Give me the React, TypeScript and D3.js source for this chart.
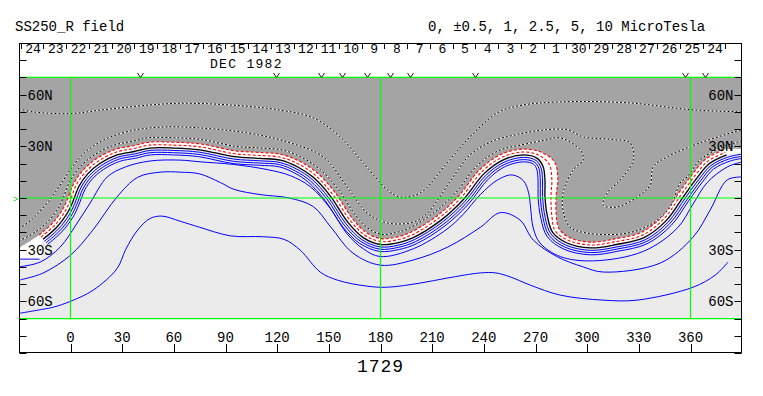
import React, { useEffect, useRef } from "react";
import * as d3 from "d3";

type Pt = [number, number];

// [Carrington longitude, latitude] pairs
const neutralLine: Pt[] = [
  [-16, -24], [-8, -17], [-2, -9], [1, -3], [5, 7], [10, 14], [17, 20], [27, 25], [37, 27], [46, 29],
  [60, 29], [75, 28], [95, 24], [110, 23], [122, 22], [132, 18], [141, 12], [151, 1], [161, -14],
  [170, -23], [180, -27], [190, -26], [199, -23], [215, -13], [228, -1], [240, 14], [251, 22], [263, 25],
  [271, 23], [274.5, 18], [275.5, 10], [275.5, 1], [277, -11], [280, -20], [288, -26], [302, -29],
  [317, -27], [333, -23], [346, -13], [356, 1], [364, 12], [371, 20], [381, 25],
];
const neutralRightEnd: Pt[] = [[390, 26.5]];

const innerRedLine: Pt[] = [
  [-17.1, -22.7], [-9.2, -15.8], [-3.4, -8.1], [-0.5, -2.3], [3.5, 7.8], [8.8, 15.2], [16.1, 21.4],
  [26.4, 26.6], [36.7, 28.7], [45.8, 30.7], [60, 30.7], [75.2, 29.7], [95.2, 25.7], [110.1, 24.7],
  [122.4, 23.6], [132.8, 19.5], [142.1, 13.3], [152.3, 2], [162.3, -12.9], [171, -21.6], [180.3, -25.3],
  [189.6, -24.3], [198.2, -21.5], [214, -11.6], [226.8, 0.2], [238.8, 15.2], [250.3, 23.5], [262.9, 26.7],
  [272, 24.8], [278, 19.5], [279.5, 10.5], [279, 1.2], [279.5, -10.4], [281.4, -19], [288.6, -24.4],
  [302.1, -27.3], [316.7, -25.3], [332.3, -21.5], [344.8, -11.8], [354.6, 2], [362.7, 13.1], [370, 21.3],
  [380.2, 26.5],
];

const outerRedLine: Pt[] = [
  [-18.2, -21.5], [-10.5, -14.7], [-4.9, -7.2], [-2.1, -1.6], [2, 8.6], [7.5, 16.3], [15.2, 22.9],
  [25.9, 28.2], [36.3, 30.3], [45.7, 32.4], [60.1, 32.4], [75.5, 31.4], [95.5, 27.4], [110.2, 26.4],
  [122.7, 25.3], [133.6, 21], [143.3, 14.6], [153.7, 3.1], [163.7, -11.9], [171.9, -20.2], [180.5, -23.6],
  [189.3, -22.7], [197.4, -20], [213, -10.3], [225.5, 1.3], [237.6, 16.4], [249.5, 25.1], [262.8, 28.4],
  [273.5, 26.5], [281, 21], [283, 11], [282, 1.5], [282, -9.5], [283.5, -17.5], [289.3, -22.8],
  [302.1, -25.6], [316.4, -23.7], [331.5, -19.9], [343.6, -10.7], [353.2, 3], [361.3, 14.1], [368.9, 22.7],
  [379.5, 28.1],
];
const greyLeftEnd: Pt[] = [[-30, -29]];
const greyRightEnd: Pt[] = [[390, 28.5]];

// positive contours (blue)
const blueLine1: Pt[] = [
  [-15.1, -25.1], [-7, -18], [-0.8, -9.8], [2.3, -3.6], [6.2, 6.3], [11, 13], [17.8, 18.8], [27.5, 23.7],
  [37.3, 25.6], [46.1, 27.6], [60, 27.6], [74.8, 26.6], [94.8, 22.6], [109.9, 21.6], [121.7, 20.6],
  [131.3, 16.8], [140.1, 11], [149.9, 0.1], [159.9, -14.9], [169.2, -24.2], [179.8, -28.4], [190.3, -27.4],
  [199.6, -24.2], [215.8, -14.1], [229, -2], [241, 13], [251.6, 20.7], [263.1, 23.6], [270.3, 21.8],
  [273.2, 17.5], [274.1, 9.9], [274.1, 0.9], [275.6, -11.3], [278.9, -20.8], [287.5, -27.3], [302, -30.4],
  [317.3, -28.4], [333.6, -24.3], [347, -14], [357.1, 0.2], [365.1, 11.1], [371.9, 18.9], [381.6, 23.7],
  [390, 25.5],
];
const blueLine2: Pt[] = [
  [-14.2, -26], [-6, -18.8], [0.3, -10.5], [3.5, -4.1], [7.4, 5.7], [12, 12.2], [18.5, 17.7], [27.9, 22.5],
  [37.5, 24.4], [46.2, 26.3], [59.9, 26.3], [74.6, 25.3], [94.6, 21.3], [109.8, 20.3], [121.4, 19.4],
  [130.7, 15.6], [139.2, 10], [148.9, -0.6], [158.9, -15.7], [168.5, -25.2], [179.6, -29.7], [190.6, -28.6],
  [200.2, -25.4], [216.6, -15.2], [230, -2.8], [241.9, 12.1], [252.2, 19.6], [263.1, 22.3], [269.6, 20.7],
  [272, 17.1], [272.8, 9.8], [272.8, 0.8], [274.4, -11.6], [277.8, -21.6], [287, -28.5], [301.9, -31.7],
  [317.5, -29.6], [334.2, -25.4], [347.9, -14.9], [358.2, -0.6], [366.1, 10.3], [372.6, 17.9], [382.2, 22.6],
  [390, 24.2],
];
const blueLine3: Pt[] = [
  [-13.4, -27], [-5.1, -19.7], [1.4, -11.2], [4.6, -4.6], [8.5, 5.1], [12.9, 11.3], [19.2, 16.6], [28.3, 21.2],
  [37.8, 23.1], [46.4, 25], [59.9, 25], [74.4, 24], [94.4, 20], [109.7, 19], [121.1, 18.1], [130.1, 14.5],
  [138.3, 9], [147.8, -1.4], [157.9, -16.5], [167.8, -26.3], [179.4, -31], [190.8, -29.9], [200.8, -26.6],
  [217.4, -16.2], [230.9, -3.7], [242.8, 11.2], [252.7, 18.4], [263.2, 21], [268.9, 19.6], [270.7, 16.7],
  [271.5, 9.8], [271.5, 0.7], [273.1, -11.8], [276.8, -22.4], [286.5, -29.7], [301.9, -33], [317.8, -30.9],
  [334.7, -26.6], [348.9, -15.8], [359.2, -1.3], [367.1, 9.5], [373.4, 16.8], [382.8, 21.4], [390, 23],
];
const blueStub: Pt[] = [[-30, -35.5], [-18, -35.5]];
const blueLine4: Pt[] = [
  [-30, -40], [-17.6, -37.2], [-6, -28.5], [3.9, -14.5], [11.4, -2.9], [21.3, 12.2], [31.8, 18], [46.3, 21.5],
  [63.7, 22], [75.3, 21], [94.5, 19.5], [114.2, 16.5], [127.6, 13], [139.2, 6.6], [150.8, -6], [160.7, -21],
  [170, -29.5], [179.8, -34], [199, -29.5], [218.7, -18], [228, -9.5], [238, 2], [248, 10.5], [256.5, 13.4],
  [263, 10], [266, 3], [267, -4], [268.7, -17.5], [272.7, -26.2], [284.4, -34], [303.6, -36.5], [332.6, -31],
  [352.3, -17.5], [361.5, -3.5], [369.7, 9], [381.3, 18], [390, 21],
];
const blueLine5: Pt[] = [
  [-30, -47.7], [-16, -43.6], [0, -33.2], [13, -18.6], [27, 0.6], [39, 12], [52, 15], [64, 15], [75, 14],
  [87, 9], [95, 5], [110, 2], [127, 0], [141, -5], [151, -16.7], [164, -32], [180, -39], [199, -36],
  [219, -28.5], [238, -17], [249.6, -8.5], [261, -12.8], [268.7, -24.4], [282.6, -34.1], [297.7, -40],
  [309.3, -43], [342.4, -37.8], [361.5, -22.7], [371.4, -7], [381.3, 10.5], [390, 12.2],
];
const blueLine6: Pt[] = [
  [-30, -67], [-16, -64.6], [-10, -63.4], [0, -60], [13.2, -53.5], [27, -41], [32, -30], [38.7, -19],
  [46, -12], [53, -10.5], [63.7, -13.5], [75, -17], [93, -22], [112, -22.5], [124, -24], [133.4, -30.3],
  [145, -43], [155, -47.7], [172.3, -51.2], [184, -51.8], [203, -49.4], [218.7, -46.5], [238, -43.5],
  [247, -43.5], [255.3, -45.8], [267, -50.6], [284.4, -56.4], [309.3, -59.3], [329, -59.3], [361.5, -51.8],
  [374.3, -44.8], [381.8, -37.2],
];

// negative contours (dotted)
const dottedLine1: Pt[] = [
  [-30, -25], [-20, -19.5], [-12.4, -12.9], [-7, -5.8], [-4.5, -0.6], [-0.3, 9.8], [5.6, 18.1], [13.8, 25],
  [25, 30.6], [35.8, 32.9], [45.5, 35], [60.2, 35], [75.8, 34], [95.8, 30], [110.4, 29], [123.3, 27.8],
  [134.8, 23.3], [145, 16.5], [155.7, 4.7], [165.7, -10.3], [173.4, -18], [180.9, -21.1], [188.7, -20.1],
  [196.2, -17.7], [211.4, -8.2], [223.6, 3.1], [235.7, 18.3], [248.4, 27.4], [262.7, 31], [275, 33.5],
  [284.4, 34.9], [296, 27.9], [297.7, 22.1], [291.9, 16.3], [286, 2.9], [286, -7], [290, -16.9], [300, -20.4],
  [323.2, -20.4], [338.3, -14.5], [348.2, -5.2], [354, 8.7], [358, 12.2], [365.6, 22.1], [377.2, 29],
  [389.4, 33],
];
const dottedLine2: Pt[] = [
  [-30, -18], [-22, -12], [-12, -1], [-5, 9], [1, 18], [9, 27], [20, 34], [35, 39], [50, 41], [64, 41.3],
  [102.6, 37.8], [127.6, 32], [146.7, 23.9], [160.7, 6.4], [172.3, -8.7], [184, -14.5], [199, -14],
  [207, -9], [214, 0], [222, 12], [232, 25], [245, 33], [260, 37], [275, 39.5], [288.4, 39.6], [297.7, 35.5],
  [314, 34], [325, 32], [326.8, 22.1], [319.2, 10.5], [311.6, 2.9], [309.3, -4.1], [317.5, -5.2], [329, 0.6],
  [336.6, 7.6], [338.3, 18], [346.5, 23.9], [365.6, 32], [389.4, 39.6],
];
const dottedLine3: Pt[] = [
  [-30, 51.8], [-21.7, 50], [0, 49], [17, 51], [46, 54], [64, 55], [93, 54], [122, 51], [141, 46.5],
  [156.6, 35.5], [170, 20.4], [184, 4.7], [191.4, 0.6], [203, 2.9], [218.7, 20.4], [232, 35.5],
  [247.8, 49.4], [260, 53.5], [284.4, 55.8], [323.2, 55.3], [361.5, 51.2], [390, 50],
];

const titleText = "SS250_R field";
const levelsText = "0, \u00b10.5, 1, 2.5, 5, 10 MicroTesla";
const rotationText = "1729";
const monthText = "DEC 1982";
const dayLabels = [24, 23, 22, 21, 20, 19, 18, 17, 16, 15, 14, 13, 12, 11, 10, 9, 8, 7, 6, 5, 4, 3, 2, 1, 30, 29, 28, 27, 26, 25, 24];
const firstDayEdgeLon = -28.9;
const degPerDay = 13.2;
const markerLons = [40.5, 119.4, 145.6, 157.5, 172.1, 185.6, 197.3, 235, 356.9, 368.5];
const lonTicks = [0, 30, 60, 90, 120, 150, 180, 210, 240, 270, 300, 330, 360];
const latTicks = d3.range(-90, 91, 10);
const latLabels: [number, string][] = [[60, "60N"], [30, "30N"], [-30, "30S"], [-60, "60S"]];
const greenLons = [0, 180, 360];
const greenLats = [70, 0, -70];

const FONT = "'Liberation Mono', 'DejaVu Sans Mono', monospace";

const App = () => {
  const ref = useRef<SVGSVGElement>(null);

  useEffect(() => {
    const svg = d3.select(ref.current);
    svg.selectAll("*").remove();

    const x = d3.scaleLinear().domain([0, 360]).range([70.5, 690.5]);
    const y = d3.scaleLinear().domain([-90, 90]).range([353, 43]);
    const left = 19.5;
    const right = 741.5;

    const line = d3
      .line<Pt>()
      .x((d) => x(d[0]))
      .y((d) => y(d[1]))
      .curve(d3.curveCatmullRom.alpha(0.5));
    const closeTop = `L${x(390)},${y(90)}L${x(-30)},${y(90)}Z`;

    svg
      .append("defs")
      .append("clipPath")
      .attr("id", "plot")
      .append("rect")
      .attr("x", left)
      .attr("y", y(70))
      .attr("width", right - left)
      .attr("height", y(-70) - y(70));

    const plot = svg.append("g").attr("clip-path", "url(#plot)");

    // backgrounds
    plot.append("rect").attr("x", left).attr("y", y(70)).attr("width", right - left).attr("height", y(-70) - y(70)).attr("fill", "#ebebeb");
    plot.append("path").attr("d", line([...blueStub, ...neutralLine, ...neutralRightEnd]) + closeTop).attr("fill", "#ffffff");
    plot.append("path").attr("d", line([...greyLeftEnd, ...outerRedLine, ...greyRightEnd]) + closeTop).attr("fill", "#a4a4a4");

    // green grid (not clipped so the 70N / 70S lines stay whole)
    const g = svg.append("g").attr("stroke", "#00ff00").attr("stroke-width", 1.2);
    greenLons.forEach((lon) => {
      g.append("line").attr("x1", x(lon)).attr("x2", x(lon)).attr("y1", y(70)).attr("y2", y(-70));
    });
    greenLats.forEach((lat) => {
      g.append("line").attr("x1", left).attr("x2", right).attr("y1", y(lat)).attr("y2", y(lat));
    });

    // positive contours
    [blueStub, blueLine1, blueLine2, blueLine3, blueLine4, blueLine5, blueLine6].forEach((pts) => {
      plot.append("path").attr("d", line(pts)).attr("fill", "none").attr("stroke", "#0000ff").attr("stroke-width", 1);
    });

    // neutral line band
    [innerRedLine, outerRedLine].forEach((pts) => {
      plot.append("path").attr("d", line(pts)).attr("fill", "none").attr("stroke", "#ff0000").attr("stroke-width", 1.1).attr("stroke-dasharray", "3 2");
    });
    plot.append("path").attr("d", line(neutralLine)).attr("fill", "none").attr("stroke", "#000").attr("stroke-width", 1.3);

    // negative contours
    [dottedLine1, dottedLine2, dottedLine3].forEach((pts) => {
      plot.append("path").attr("d", line(pts)).attr("fill", "none").attr("stroke", "#fff").attr("stroke-width", 1);
      plot.append("path").attr("d", line(pts)).attr("fill", "none").attr("stroke", "#000").attr("stroke-width", 1).attr("stroke-dasharray", "2 2");
    });

    // frame
    svg.append("rect").attr("x", left).attr("y", 43.5).attr("width", right - left).attr("height", 309).attr("fill", "none").attr("stroke", "#000");

    const axes = svg.append("g").attr("stroke", "#000").attr("stroke-width", 1).attr("fill", "none");
    latTicks.forEach((lat) => {
      const yy = Math.round(y(lat)) + 0.5;
      axes.append("line").attr("x1", left).attr("x2", left + 7).attr("y1", yy).attr("y2", yy);
      axes.append("line").attr("x1", right - 7).attr("x2", right).attr("y1", yy).attr("y2", yy);
    });
    lonTicks.forEach((lon) => {
      const xx = Math.round(x(lon)) + 0.5;
      axes.append("line").attr("x1", xx).attr("x2", xx).attr("y1", 344).attr("y2", 353);
    });
    d3.range(dayLabels.length + 1).forEach((k) => {
      const xx = Math.round(x(firstDayEdgeLon + k * degPerDay)) + 0.5;
      axes.append("line").attr("x1", xx).attr("x2", xx).attr("y1", 43.5).attr("y2", 49);
    });
    // "v" markers above the map
    markerLons.forEach((lon) => {
      const xx = Math.round(x(lon)) + 0.5;
      axes.append("path").attr("d", `M${xx - 3},73L${xx},77.5L${xx + 3},73`).attr("stroke-width", 0.9);
    });

    const text = svg.append("g").attr("font-family", FONT).attr("font-size", 14).attr("fill", "#000");
    text.append("text").attr("x", 15).attr("y", 31).text(titleText);
    text.append("text").attr("x", 428).attr("y", 31).text(levelsText);
    dayLabels.forEach((d, k) => {
      text.append("text").attr("x", x(firstDayEdgeLon + (k + 0.5) * degPerDay) + 1).attr("y", 52.5).attr("font-size", 13).attr("text-anchor", "middle").text(d);
    });
    text.append("text").attr("x", 210).attr("y", 67.5).attr("font-size", 13).attr("letter-spacing", 1.3).text(monthText);
    latLabels.forEach(([lat, label]) => {
      text.append("text").attr("x", left + 8).attr("y", y(lat) + 5).text(label);
      text.append("text").attr("x", right - 8).attr("y", y(lat) + 5).attr("text-anchor", "end").text(label);
    });
    lonTicks.forEach((lon) => {
      text.append("text").attr("x", x(lon)).attr("y", 342).attr("text-anchor", "middle").text(lon);
    });
    text.append("text").attr("x", 13).attr("y", y(0) + 4).attr("font-size", 9).attr("fill", "#00cc00").text(">");
    text.append("text").attr("x", x(180)).attr("y", 372).attr("font-size", 18).attr("text-anchor", "middle").attr("letter-spacing", 1).text(rotationText);
  }, []);

  return (
    <svg
      ref={ref}
      width={763}
      height={396}
      style={{ position: "absolute", left: 0, top: 0, background: "#fff" }}
    ></svg>
  );
};

export default App;
